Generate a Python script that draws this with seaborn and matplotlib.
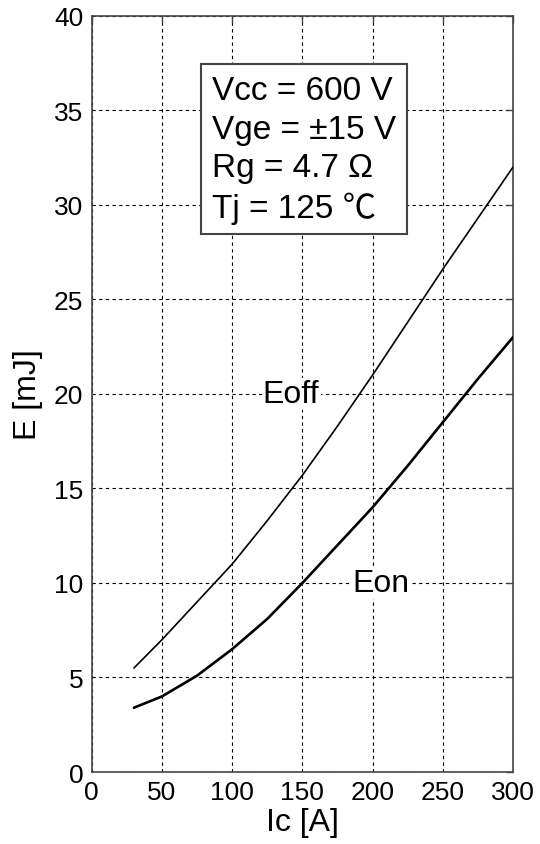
import matplotlib
matplotlib.use("Agg")
import matplotlib.pyplot as plt
import seaborn as sns
import pandas as pd

# Données
ic = [30, 50, 75, 100, 125, 150, 175, 200, 225, 250, 275, 300]
e_off = [5.5, 7.0, 9.0, 11.0, 13.3, 15.7, 18.3, 21.0, 23.8, 26.6, 29.3, 32.0]
e_on = [3.4, 4.0, 5.1, 6.5, 8.1, 10.0, 12.0, 14.0, 16.2, 18.5, 20.8, 23.0]

x_ticks = [0, 50, 100, 150, 200, 250, 300]
y_ticks = [0, 5, 10, 15, 20, 25, 30, 35, 40]

conditions = ["Vcc = 600 V", "Vge = \u00b115 V", "Rg = 4.7 \u03a9", "Tj = 125 \u2103"]

df = pd.DataFrame({"Ic": ic + ic,
                   "E": e_off + e_on,
                   "courbe": ["Eoff"] * len(ic) + ["Eon"] * len(ic)})

sns.set_style("white")
plt.rcParams['font.family'] = ['Liberation Sans', 'Noto Sans CJK JP', 'DejaVu Sans']
plt.rcParams['text.color'] = 'black'
plt.rcParams['axes.labelcolor'] = 'black'
plt.rcParams['xtick.color'] = 'black'
plt.rcParams['ytick.color'] = 'black'

fig = plt.figure(figsize=(5.4, 8.45), dpi=100)
ax = fig.add_axes([0.170, 0.0852, 0.780, 0.8948])

sns.lineplot(data=df, x="Ic", y="E", hue="courbe", size="courbe",
             palette={"Eoff": "black", "Eon": "black"},
             sizes={"Eoff": 1.2, "Eon": 1.9}, legend=False, ax=ax, zorder=3)

ax.set_xlim(0, 300)
ax.set_ylim(0, 40)
ax.set_xticks(x_ticks)
ax.set_yticks(y_ticks)
ax.grid(True, color="black", linestyle=(0, (3, 3)), linewidth=0.8)
ax.tick_params(direction="in", length=5, width=1, color="#444444",
               labelcolor="black", labelsize=19, top=True, right=True, pad=6)
for sp in ax.spines.values():
    sp.set_color("#444444")
    sp.set_linewidth(1.2)

ax.set_xlabel("Ic [A]", fontsize=23, labelpad=2)
ax.set_ylabel("E [mJ]", fontsize=23, labelpad=8)

# Étiquettes des courbes
ax.text(142, 20, "Eoff", fontsize=23, ha="center", va="center", zorder=4,
        bbox=dict(facecolor="white", edgecolor="none", pad=1))
ax.text(206, 10, "Eon", fontsize=23, ha="center", va="center", zorder=4,
        bbox=dict(facecolor="white", edgecolor="none", pad=1))

# Cadre des conditions
ax.text(0.285, 0.922, "\n".join(conditions), transform=ax.transAxes,
        fontsize=24, ha="left", va="top", linespacing=1.32, zorder=5,
        bbox=dict(boxstyle="square,pad=0.32", facecolor="white",
                  edgecolor="#444444", linewidth=1.5))

plt.savefig("out.png", dpi=100)
